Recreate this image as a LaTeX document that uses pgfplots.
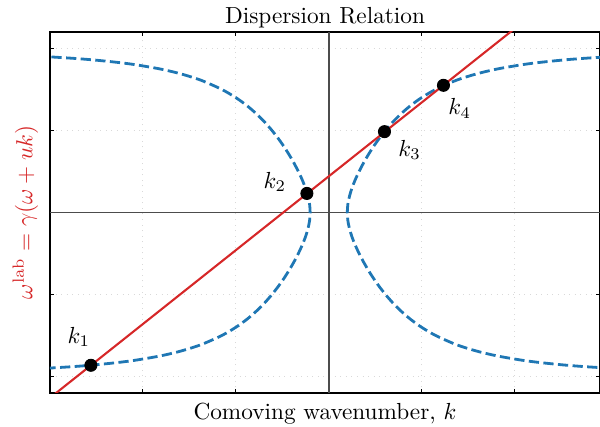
\documentclass[border=0pt]{standalone}
\usepackage{pgfplots}
\pgfplotsset{compat=1.18}
\definecolor{mblue}{HTML}{1F77B4}
\definecolor{mred}{HTML}{D62728}
\begin{document}
\begin{tikzpicture}
\begin{axis}[
  scale only axis,
  width=236.5pt, height=155.2pt,
  xmin=-3, xmax=2.92, ymin=-2.2, ymax=2.2,
  xtick={-2,-1,0,1,2}, ytick={-2,-1,0,1,2},
  xticklabels={}, yticklabels={},
  tick align=inside,
  major tick length=1.6pt,
  tick style={black, line width=0.5pt},
  axis line style={black, line width=0.7pt},
  grid=major,
  major grid style={dotted, gray!30, line width=0.4pt},
  every axis title shift=0pt,
  title={Dispersion Relation},
  title style={at={(axis description cs:0.5,1.0249)}, anchor=base, inner sep=0pt},
  xlabel={Comoving wavenumber, $k$},
  xlabel style={at={(axis description cs:0.5,-0.0748)}, anchor=base, inner sep=0pt},
  ylabel={$\omega^{\mathrm{lab}} = \gamma(\omega + uk)$},
  ylabel style={at={(axis description cs:-0.032,0.5)}, anchor=base, inner sep=0pt, text=mred},
  clip=true,
]
% zero lines
\addplot[black!70, line width=0.7pt] coordinates {(-3,0) (3,0)};
\addplot[black!70, line width=0.7pt] coordinates {(0,-2.2) (0,2.2)};
% dispersion curve, right branch
\addplot[mblue, dash pattern=on 4.4pt off 1.9pt, line width=1.2pt, smooth] coordinates {
(3.049,-1.90) (2.762,-1.88) (2.538,-1.86) (2.277,-1.83) (2.074,-1.80) (1.818,-1.75)
(1.626,-1.70) (1.474,-1.65) (1.348,-1.60) (1.151,-1.50) (1.000,-1.40) (0.878,-1.30)
(0.776,-1.20) (0.688,-1.10) (0.611,-1.00) (0.542,-0.90) (0.480,-0.80) (0.424,-0.70)
(0.373,-0.60) (0.327,-0.50) (0.286,-0.40) (0.251,-0.30) (0.224,-0.20) (0.206,-0.10)
(0.200,0.00)
(0.206,0.10) (0.224,0.20) (0.251,0.30) (0.286,0.40) (0.327,0.50) (0.373,0.60)
(0.424,0.70) (0.480,0.80) (0.542,0.90) (0.611,1.00) (0.688,1.10) (0.776,1.20)
(0.878,1.30) (1.000,1.40) (1.151,1.50) (1.348,1.60) (1.474,1.65) (1.626,1.70)
(1.818,1.75) (2.074,1.80) (2.277,1.83) (2.538,1.86) (2.762,1.88) (3.049,1.90)
};
% dispersion curve, left branch
\addplot[mblue, dash pattern=on 4.4pt off 1.9pt, line width=1.2pt, smooth] coordinates {
(-3.049,-1.90) (-2.762,-1.88) (-2.538,-1.86) (-2.277,-1.83) (-2.074,-1.80) (-1.818,-1.75)
(-1.626,-1.70) (-1.474,-1.65) (-1.348,-1.60) (-1.151,-1.50) (-1.000,-1.40) (-0.878,-1.30)
(-0.776,-1.20) (-0.688,-1.10) (-0.611,-1.00) (-0.542,-0.90) (-0.480,-0.80) (-0.424,-0.70)
(-0.373,-0.60) (-0.327,-0.50) (-0.286,-0.40) (-0.251,-0.30) (-0.224,-0.20) (-0.206,-0.10)
(-0.200,0.00)
(-0.206,0.10) (-0.224,0.20) (-0.251,0.30) (-0.286,0.40) (-0.327,0.50) (-0.373,0.60)
(-0.424,0.70) (-0.480,0.80) (-0.542,0.90) (-0.611,1.00) (-0.688,1.10) (-0.776,1.20)
(-0.878,1.30) (-1.000,1.40) (-1.151,1.50) (-1.348,1.60) (-1.474,1.65) (-1.626,1.70)
(-1.818,1.75) (-2.074,1.80) (-2.277,1.83) (-2.538,1.86) (-2.762,1.88) (-3.049,1.90)
};
% lab-frame line
\addplot[mred, line width=0.9pt] coordinates {(-3.1,-2.35) (2.1,2.33)};
% intersection points
\addplot[only marks, mark=*, mark size=2.6pt, black] coordinates {
(-2.56,-1.863) (-0.235,0.232) (0.60,0.985) (1.235,1.55)
};
\node at (axis cs:-2.69,-1.52) {$k_1$};
\node at (axis cs:-0.58,0.37) {$k_2$};
\node at (axis cs:0.87,0.76) {$k_3$};
\node at (axis cs:1.41,1.27) {$k_4$};
\end{axis}
\path (current axis.south west) ++(-21.5pt,-14.62pt) coordinate (BBA);
\path (current axis.north east) ++(0pt,13.76pt) coordinate (BBB);
\pgfresetboundingbox
\path[use as bounding box] (BBA) rectangle (BBB);
\end{tikzpicture}
\end{document}
